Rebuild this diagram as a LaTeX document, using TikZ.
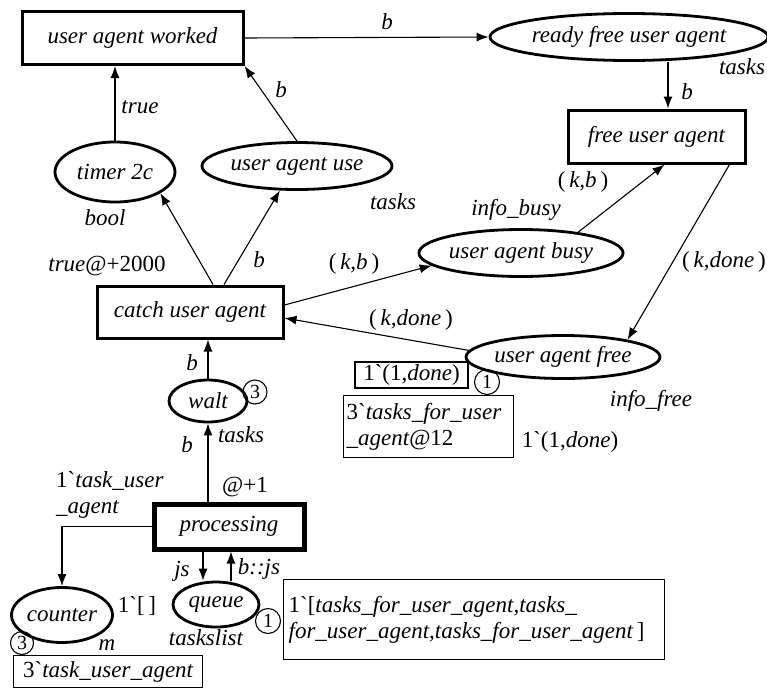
\documentclass[tikz,border=0pt]{standalone}
\usepackage{fontspec}
\setmainfont{Liberation Serif}
\usetikzlibrary{arrows.meta,shapes.geometric}
\newcommand{\bq}{\textasciigrave}
\begin{document}
\begin{tikzpicture}[x=1pt,y=-1pt,
  every node/.style={font=\fontsize{23}{26}\selectfont\itshape, inner sep=0pt},
  place/.style={ellipse, draw, line width=2.8pt},
  trans/.style={rectangle, draw, line width=3pt},
  arc/.style={line width=1.1pt, -{Latex[length=12pt,width=9pt]}},
  inscr/.style={rectangle, draw, line width=1.3pt},
  tok/.style={circle, draw, line width=1.1pt, minimum size=25pt, font=\fontsize{20}{20}\selectfont\upshape}
]
\useasboundingbox (0,0) rectangle (767,688);

% transitions
\node[trans, minimum width=221pt, minimum height=53pt] (worked) at (132.5,38) {user agent worked};
\node[trans, minimum width=177pt, minimum height=53pt] (free) at (656.5,136.5) {free user agent};
\node[trans, minimum width=186pt, minimum height=52pt] (catch) at (190,312) {catch user agent};
\node[trans, line width=5pt, minimum width=150pt, minimum height=45pt] (proc) at (229,526.5) {processing};

% places
\node[place, minimum width=278pt, minimum height=47pt] (ready) at (629,37) {ready free user agent};
\node[place, minimum width=120pt, minimum height=60pt] (timer) at (115,172) {timer 2c};
\node[place, minimum width=190pt, minimum height=47pt] (use) at (297,166) {user agent use};
\node[place, minimum width=192pt, minimum height=47pt] (busy) at (521,253) {user agent busy};
\node[place, minimum width=193pt, minimum height=43pt] (ufree) at (563,357) {user agent free};
\node[place, minimum width=78pt, minimum height=42pt] (walt) at (208,401) {walt};
\node[place, minimum width=101pt, minimum height=55pt] (counter) at (62,615) {counter};
\node[place, minimum width=86pt, minimum height=45pt] (queue) at (216,604.5) {queue};

% arcs
\draw[arc] (worked.east) -- (ready.west);
\draw[arc] ([xshift=39pt]ready.south) -- ([xshift=11.5pt]free.north);
\draw[arc] (timer.north) -- (timer.north |- worked.south);
\draw[arc] (use.north) -- (worked.south east);
\draw[arc] ([xshift=23pt]catch.north) -- (timer.-25);
\draw[arc] ([xshift=34pt]catch.north) -- (use.-125);
\draw[arc] ([yshift=7pt]catch.east) -- (busy.188);
\draw[arc] (busy.20) -- ([xshift=8pt]free.south);
\draw[arc] ([xshift=-17pt]free.south east) -- (ufree.15);
\draw[arc] (ufree.176) -- ([yshift=-6pt]catch.east);
\draw[arc] (walt.north) -- (walt.north |- catch.south);
\draw[arc] (walt.south |- proc.north) -- (walt.south);
\draw[arc] (proc.west) -| (counter.north);
\draw[arc] ([xshift=-26pt]proc.south) -- ([xshift=-13pt]queue.north);
\draw[arc] ([xshift=15pt]queue.north) -- ([xshift=2pt]proc.south);

% arc inscriptions and colour sets
\node (l1) at (387,22) {b};
\node (l2) at (742,67) {tasks};
\node (l3) at (687,92) {b};
\node (l4) at (140,107) {true};
\node (l5) at (281,90) {b};
\node (l6) at (105,218) {bool};
\node (l7) at (393,202) {tasks};
\node (l8) at (107,266) {true{\upshape @+2000}};
\node (l9) at (259,260) {b};
\node (l10) at (354,264) {{\upshape(\,}k,b{\upshape\,)}};
\node (l11) at (516,210) {info\_busy};
\node (l12) at (583,182) {{\upshape(\,}k,b{\upshape\,)}};
\node[anchor=west] (l13) at (682,262) {{\upshape(\,}k,done{\upshape\,)}};
\node (l14) at (411,320) {{\upshape(\,}k,done{\upshape\,)}};
\node (l15) at (651,401) {info\_free};
\node (l16) at (570,442) {{\upshape 1\bq(1,}done{\upshape)}};
\node (l17) at (192,363) {b};
\node (l18) at (187,445) {b};
\node (l19) at (241,435) {tasks};
\node (l20) at (245,487) {\upshape @+1};
\node[align=left, anchor=west] (l21) at (56,495) {{\upshape 1\bq}task\_user\\\_agent};
\node (l22) at (182,571) {js};
\node (l23) at (259,569) {b::js};
\node (l24) at (137,606) {\upshape 1\bq[\,]};
\node (l25) at (107,645) {m};
\node (l26) at (206,638) {taskslist};

% initial markings
\node[inscr, minimum width=113pt, minimum height=26pt] (m1) at (411.5,375) {{\upshape 1\bq(1,}done{\upshape)}};
\node[inscr, anchor=north west, text width=164pt, inner xsep=3pt, minimum height=62pt, align=left] (m2) at (343,395) {{\upshape 3\bq}tasks\_for\_user\\\_agent{\upshape @12}};
\node[inscr, anchor=north west, minimum width=189pt, minimum height=32pt] (m3) at (13,655) {{\upshape 3\bq}task\_user\_agent};
\node[inscr, anchor=north west, text width=371pt, inner xsep=5pt, minimum height=80pt, align=left] (m4) at (283,579) {{\upshape 1\bq[}tasks\_for\_user\_agent,tasks\_\\for\_user\_agent,tasks\_for\_user\_agent{\upshape\,]}};

% token counts
\node[tok] (t1) at (487,382) {1};
\node[tok, minimum size=24pt] (t3) at (255,392) {3};
\node[tok, minimum size=23pt] (t3b) at (22,643) {3};
\node[tok] (t1b) at (268,621) {1};
\end{tikzpicture}
\end{document}
